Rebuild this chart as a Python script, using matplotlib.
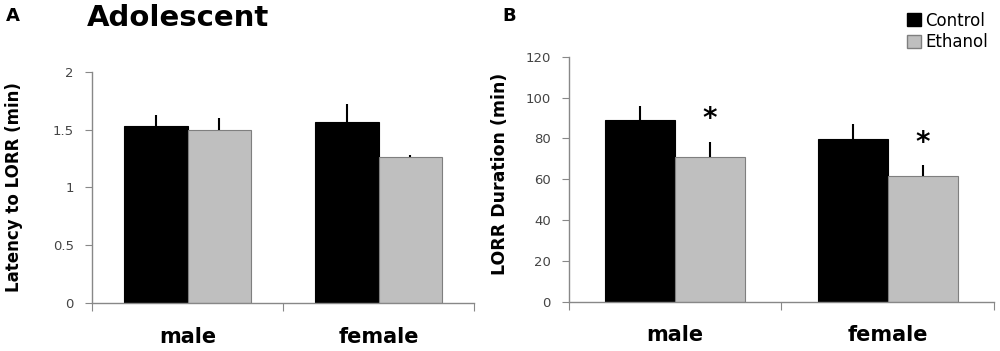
import numpy as np
import matplotlib
matplotlib.use('Agg')
import matplotlib.pyplot as plt
from matplotlib.patches import Patch

# data
groups = ['male', 'female']
series = ['Control', 'Ethanol']
latency_mean = {'Control': [1.53, 1.57], 'Ethanol': [1.50, 1.26]}
latency_sem = {'Control': [0.10, 0.15], 'Ethanol': [0.10, 0.02]}
duration_mean = {'Control': [88.8, 79.5], 'Ethanol': [70.9, 61.7]}
duration_sem = {'Control': [7.2, 7.4], 'Ethanol': [7.5, 5.2]}
signif = [True, True]  # ethanol vs control, panel B

colors = {'Control': '#000000', 'Ethanol': '#bfbfbf'}
edges = {'Control': '#000000', 'Ethanol': '#7f7f7f'}
axis_grey = '#888888'
plt.rcParams['font.family'] = 'DejaVu Sans'

fig = plt.figure(figsize=(10, 3.51), dpi=100)
axA = fig.add_axes([0.092, 0.137, 0.382, 0.658])
axB = fig.add_axes([0.5687, 0.1405, 0.4253, 0.698])

def draw_panel(ax, means, sems, ylim, yticks, ylabel, lsize):
    x = np.arange(len(groups))
    w = 0.33
    for k, s in enumerate(series):
        off = (k - 0.5) * w
        ax.bar(x + off, means[s], width=w, color=colors[s], edgecolor=edges[s],
               linewidth=0.8, zorder=2)
        ax.errorbar(x + off, means[s], yerr=[np.zeros(len(groups)), sems[s]],
                    fmt='none', ecolor='black', elinewidth=1.5, capsize=0, zorder=3)
    ax.set_xlim(-0.5, 1.5)
    ax.set_ylim(*ylim)
    ax.set_yticks(yticks)
    ax.set_yticklabels([('%g' % t) for t in yticks], fontsize=9.5, color='#444444')
    ax.set_xticks([-0.5, 0.5, 1.5])
    ax.set_xticklabels([])
    ax.set_xticks(x, minor=True)
    ax.set_xticklabels(groups, minor=True, fontsize=15, fontweight='bold')
    ax.tick_params(axis='x', which='minor', length=0, pad=17)
    ax.tick_params(axis='x', which='major', length=6, color=axis_grey, direction='out')
    ax.tick_params(axis='y', length=5, color=axis_grey, direction='out', pad=8)
    for sp in ['top', 'right']:
        ax.spines[sp].set_visible(False)
    for sp in ['left', 'bottom']:
        ax.spines[sp].set_color(axis_grey)
        ax.spines[sp].set_linewidth(1.0)
    ax.set_ylabel(ylabel, fontsize=lsize, fontweight='bold')

draw_panel(axA, latency_mean, latency_sem, (0, 2), [0, 0.5, 1, 1.5, 2],
           'Latency to LORR (min)', 12)
axA.yaxis.set_label_coords(-0.18, 0.5)
draw_panel(axB, duration_mean, duration_sem, (0, 120), [0, 20, 40, 60, 80, 100, 120],
           'LORR Duration (min)', 12.5)
axB.yaxis.set_label_coords(-0.14, 0.52)

# significance stars
for i, flag in enumerate(signif):
    if flag:
        top = duration_mean['Ethanol'][i] + duration_sem['Ethanol'][i]
        axB.text(i + 0.165, top + 11, '*', ha='center', va='center',
                 fontsize=20, fontweight='bold')

fig.text(0.006, 0.955, 'A', fontsize=13, fontweight='bold', va='center')
fig.text(0.502, 0.955, 'B', fontsize=13, fontweight='bold', va='center')
fig.text(0.087, 0.95, 'Adolescent', fontsize=21, fontweight='bold', va='center')

handles = [Patch(facecolor=colors[s], edgecolor=edges[s]) for s in series]
fig.legend(handles, series, loc='upper right', bbox_to_anchor=(1.0, 1.0),
           frameon=False, fontsize=12, handlelength=0.8, handleheight=0.8,
           handletextpad=0.3, labelspacing=0.2, borderaxespad=0.3)

plt.savefig('out.png', dpi=100)
